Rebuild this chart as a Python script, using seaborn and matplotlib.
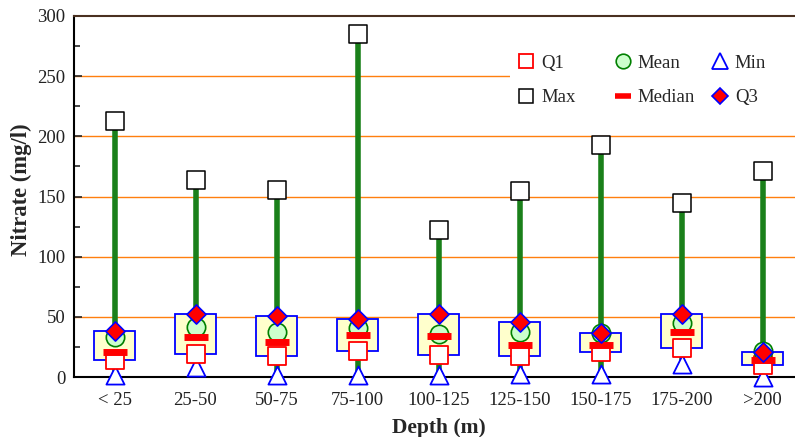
import matplotlib
matplotlib.use("Agg")
import matplotlib.pyplot as plt
import seaborn as sns
import numpy as np
import pandas as pd
from matplotlib.lines import Line2D
from matplotlib.patches import Rectangle
from matplotlib.ticker import MultipleLocator

categories = ["< 25", "25-50", "50-75", "75-100", "100-125", "125-150", "150-175", "175-200", ">200"]
q1_vals = [14, 19.5, 17.5, 21.5, 18.5, 17.5, 21, 24.5, 10]
q3_vals = [38.5, 52, 50.5, 48.5, 52, 46, 36.5, 52.5, 21]
mean_vals = [33, 41.5, 37, 41, 36, 37.5, 36.5, 45, 21.5]
median_vals = [21, 33.5, 29.5, 35, 34, 26.5, 26.5, 37, 14.5]
min_vals = [2, 8, 1.5, 1.5, 1.5, 2.5, 2.5, 10.5, 0]
max_vals = [213, 164, 155.5, 285, 122, 154.5, 192.5, 145, 171]

df = pd.DataFrame({"cat": categories, "Q1": q1_vals, "Q3": q3_vals, "Mean": mean_vals,
                   "Median": median_vals, "Min": min_vals, "Max": max_vals})
df["x"] = np.arange(len(categories))

sns.set_theme(style="white")
plt.rcParams["font.family"] = ["Liberation Serif", "DejaVu Serif"]

fig = plt.figure(figsize=(7.95, 4.37), dpi=100)
ax = fig.add_axes([74/795, 60/437, 729/795, 361/437])

# grid lines
for g in [50, 100, 150, 200, 250]:
    ax.axhline(g, color="#ff7f0e", lw=1.0, zorder=0.5)

# min-max whisker line
ax.vlines(df["x"], df["Min"], df["Max"], color="#1a801a", lw=4, zorder=1)
# boxes Q1-Q3
ax.bar(df["x"], df["Q3"] - df["Q1"], bottom=df["Q1"], width=0.5,
       color="#ffffcc", edgecolor="blue", linewidth=1.3, zorder=2)

sns.scatterplot(data=df, x="x", y="Min", marker="^", s=170, facecolor="white",
                edgecolor="blue", linewidth=1.3, zorder=3, ax=ax, legend=False, clip_on=False)
sns.scatterplot(data=df, x="x", y="Max", marker="s", s=155, facecolor="white",
                edgecolor="black", linewidth=1.1, zorder=3, ax=ax, legend=False)
sns.scatterplot(data=df, x="x", y="Q1", marker="s", s=150, facecolor="white",
                edgecolor="red", linewidth=1.3, zorder=3, ax=ax, legend=False)
sns.scatterplot(data=df, x="x", y="Mean", marker="o", s=175, facecolor="#ccffcc",
                edgecolor="green", linewidth=1.2, zorder=4, ax=ax, legend=False)
ax.scatter(df["x"], df["Median"], marker="_", s=320, color="red", linewidths=5, zorder=5)
sns.scatterplot(data=df, x="x", y="Q3", marker="D", s=95, facecolor="red",
                edgecolor="blue", linewidth=1.2, zorder=6, ax=ax, legend=False)

ax.set_xlim(-0.5, len(categories) - 0.5)
ax.set_ylim(0, 300)
ax.set_xticks(np.arange(len(categories)))
ax.set_xticklabels(categories)
ax.set_xticks(np.arange(len(categories)) + 0.5, minor=True)
ax.tick_params(axis="x", which="major", length=0, labelsize=13.5, pad=11)
ax.tick_params(axis="x", which="minor", direction="out", length=6, width=1.2, color="black")
ax.yaxis.set_major_locator(MultipleLocator(50))
ax.yaxis.set_minor_locator(MultipleLocator(25))
ax.tick_params(axis="y", which="major", direction="in", length=6, width=1.2, labelsize=13.5, pad=6, left=True)
ax.tick_params(axis="y", which="minor", direction="in", length=4, width=1.2, left=True)
for lab in ax.get_xticklabels() + ax.get_yticklabels():
    lab.set_color("#222222")

for side in ["left", "bottom"]:
    ax.spines[side].set_color("black")
    ax.spines[side].set_linewidth(1.5)
ax.spines["top"].set_color("#4a3020")
ax.spines["top"].set_linewidth(1.5)
ax.spines["right"].set_visible(False)

ax.set_xlabel("Depth (m)", fontsize=15.5, fontweight="bold", labelpad=6)
ax.set_ylabel("Nitrate (mg/l)", fontsize=16.3, fontweight="bold")
ax.yaxis.set_label_coords(-0.057, 0.518)

# white background behind the legend block
fig.add_artist(Rectangle((510 / 795, 1 - 118 / 437), 290 / 795, 80 / 437,
                         transform=fig.transFigure, facecolor="white", edgecolor="none", zorder=1))

legend_groups = [
    ([Line2D([], [], ls="", marker="s", ms=10, mfc="white", mec="red", mew=1.3, label="Q1"),
      Line2D([], [], ls="", marker="s", ms=10, mfc="white", mec="black", mew=1.1, label="Max")], 526),
    ([Line2D([], [], ls="", marker="o", ms=10.5, mfc="#ccffcc", mec="green", mew=1.2, label="Mean"),
      Line2D([], [], ls="", marker="_", ms=11, mec="red", mew=4, label="Median")], 622.5),
    ([Line2D([], [], ls="", marker="^", ms=11.5, mfc="white", mec="blue", mew=1.3, label="Min"),
      Line2D([], [], ls="", marker="D", ms=8, mfc="red", mec="blue", mew=1.2, label="Q3")], 719.5),
]
fs = 13.5
px_per_fs = fs * 100 / 72
hl, bp, htp = 0.8, 0.3, 0.42
for hs, cx in legend_groups:
    left = cx - (bp + hl / 2) * px_per_fs
    leg = fig.legend(handles=hs, ncol=1, loc="upper left", bbox_to_anchor=(left / 795, 1 - 49 / 437),
                     frameon=False, fontsize=fs, handletextpad=htp, handlelength=hl,
                     labelspacing=0.92, borderpad=bp, borderaxespad=0)
    leg.set_zorder(5)

fig.savefig("out.png", dpi=100)
